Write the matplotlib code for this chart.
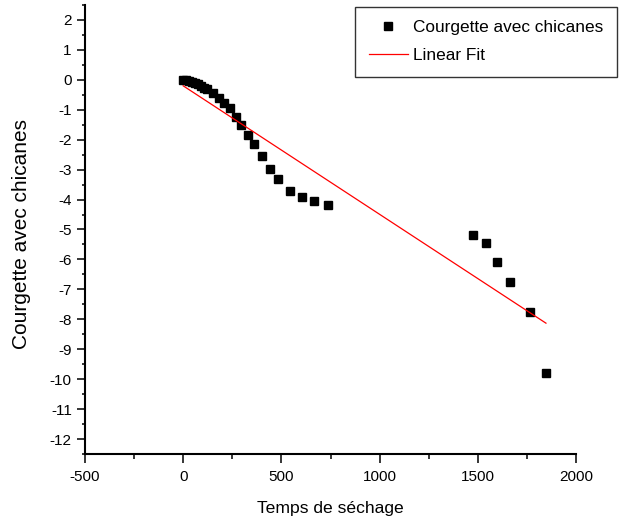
import matplotlib
matplotlib.use("Agg")
import matplotlib.pyplot as plt
from matplotlib.ticker import MultipleLocator, FixedLocator
import numpy as np

plt.rcParams['axes.unicode_minus'] = False

# Data
temps = [0, 15, 30, 45, 60, 75, 90, 105, 120, 150, 180, 210, 240, 267, 296,
         330, 360, 401, 444, 483, 542, 605, 668, 736,
         1477, 1541, 1600, 1663, 1765, 1847]
valeurs = [0, -0.01, -0.03, -0.06, -0.10, -0.15, -0.20, -0.26, -0.32, -0.45,
           -0.60, -0.78, -0.95, -1.23, -1.50, -1.84, -2.14, -2.56, -2.97,
           -3.32, -3.73, -3.90, -4.05, -4.19,
           -5.18, -5.44, -6.07, -6.77, -7.77, -9.80]
fit_intercept = -0.20
fit_slope = -0.004293

serie_label = "Courgette avec chicanes"
fit_label = "Linear Fit"
xlabel = "Temps de séchage"
ylabel = "Courgette avec chicanes"
xticks = [-500, 0, 500, 1000, 1500, 2000]
yticks = list(range(-12, 3))

font = ['Liberation Sans', 'DejaVu Sans']

fig = plt.figure(figsize=(6.23, 5.26), dpi=100)
ax = fig.add_axes([85/623, (526-454)/526, (576-85)/623, (454-5)/526])

ax.plot(temps, valeurs, linestyle='none', marker='s', markersize=6,
        color='black', label=serie_label)
xfit = np.array([min(temps), max(temps)])
ax.plot(xfit, fit_intercept + fit_slope*xfit, color='red', linewidth=0.9,
        label=fit_label)

ax.set_xlim(-500, 2000)
ax.set_ylim(-12.5, 2.5)
ax.xaxis.set_major_locator(FixedLocator(xticks))
ax.xaxis.set_minor_locator(MultipleLocator(250))
ax.yaxis.set_major_locator(FixedLocator(yticks))
ax.yaxis.set_minor_locator(MultipleLocator(0.5))

for s in ['top', 'right']:
    ax.spines[s].set_visible(False)
for s in ['left', 'bottom']:
    ax.spines[s].set_linewidth(1.5)

ax.tick_params(axis='x', which='major', direction='out', length=6.5, width=1.1, pad=5)
ax.tick_params(axis='x', which='minor', direction='out', length=3.5, width=1.1)
ax.tick_params(axis='y', which='major', direction='out', length=5.5, width=1.1, pad=4)
ax.tick_params(axis='y', which='minor', direction='out', length=2.5, width=1.1)

for lab in ax.get_xticklabels() + ax.get_yticklabels():
    lab.set_family(font)
    lab.set_fontsize(11)

ax.set_xlabel(xlabel, family=font, fontsize=12.6)
ax.set_ylabel(ylabel, family=font, fontsize=15)
ax.xaxis.set_label_coords(0.5, -(501-454)/449)
ax.yaxis.set_label_coords((31-85)/491, (454-234)/449)

leg = ax.legend(loc='upper right', bbox_to_anchor=(617/623, 1-7/526),
                bbox_transform=fig.transFigure, prop={'family': font, 'size': 12.4},
                frameon=True, fancybox=False, borderaxespad=0, handlelength=2.3,
                handletextpad=0.3, labelspacing=0.75, borderpad=0.78)
leg.get_frame().set_edgecolor('black')
leg.get_frame().set_linewidth(1.0)

fig.savefig('out.png', dpi=100)
